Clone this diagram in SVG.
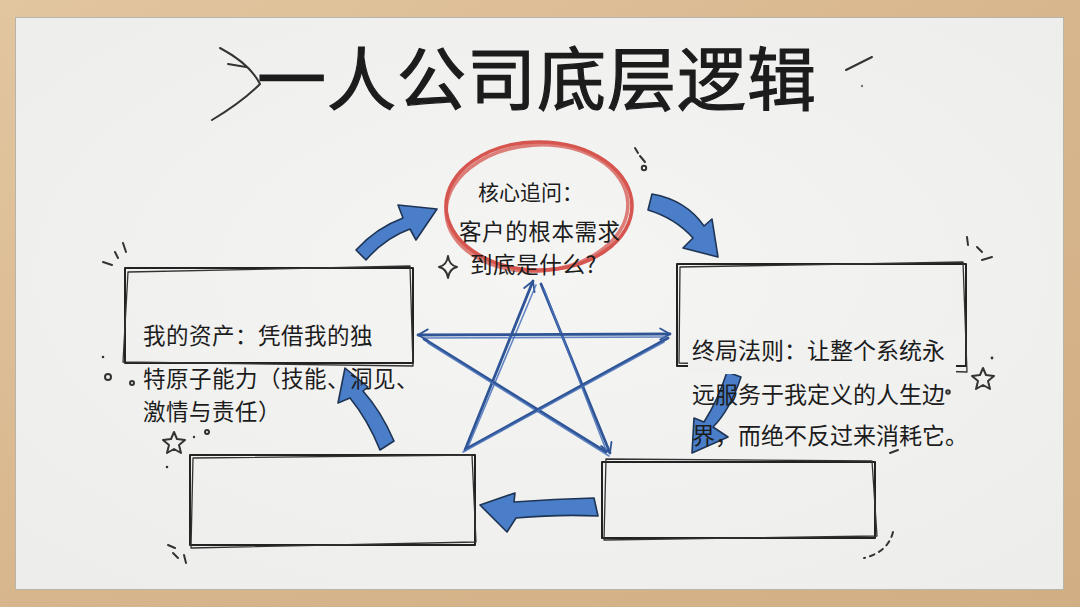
<svg xmlns="http://www.w3.org/2000/svg" width="1080" height="607" viewBox="0 0 1080 607">
<defs>
<linearGradient id="wood" x1="0" y1="0" x2="1" y2="1">
<stop offset="0" stop-color="#e2c6a0"/>
<stop offset="0.5" stop-color="#d8b68d"/>
<stop offset="1" stop-color="#d2ae84"/>
</linearGradient>
<radialGradient id="board" cx="0.5" cy="0.45" r="0.7">
<stop offset="0" stop-color="#f5f5f4"/>
<stop offset="1" stop-color="#ededec"/>
</radialGradient>
<marker id="chev" viewBox="0 0 20 20" refX="17" refY="10" markerWidth="14" markerHeight="14" markerUnits="userSpaceOnUse" orient="auto-start-reverse">
<path d="M3 2 L17 10 L3 18" fill="none" stroke="#2f5597" stroke-width="2.6" stroke-linejoin="round" stroke-linecap="round"/>
</marker>
<style>
.t{font-family:"Noto Sans CJK SC","Noto Sans",sans-serif;fill:#1c1c1c}
.box{fill:none;stroke:#222;stroke-width:2;stroke-linejoin:round}
.box2{fill:none;stroke:#333;stroke-width:1.3;stroke-linejoin:round}
.arw{fill:#4a7ec8;stroke:#1e3454;stroke-width:1.6;stroke-linejoin:round}
.star{fill:none;stroke:#2f5597;stroke-width:2.8;stroke-linecap:round}
.star2{fill:none;stroke:#4a72b8;stroke-width:1.6;stroke-linecap:round;opacity:0.85}
.deco{fill:none;stroke:#333;stroke-width:2;stroke-linecap:round;stroke-linejoin:round}
.red{fill:none;stroke:#d6554f;stroke-width:3.6}
</style>
</defs>

<!-- frame and board -->
<rect x="0" y="0" width="1080" height="607" fill="url(#wood)"/>
<rect x="15" y="17" width="1049" height="573" fill="url(#board)"/>
<rect x="15.5" y="17.5" width="1048" height="572" fill="none" stroke="#b9b3a8" stroke-width="1"/>

<!-- title -->
<g id="title">
<text class="t" x="537" y="105" font-size="69" font-weight="400" text-anchor="middle" letter-spacing="1" stroke="#1c1c1c" stroke-width="1.2">一人公司底层逻辑</text>
<path class="deco" d="M220 48 Q250 64 260 84 Q242 102 212 120" stroke="#555" stroke-width="2.2"/>
<path class="deco" d="M228 64 L246 67" stroke="#666" stroke-width="1.8"/>
<path class="deco" d="M846 70 L872 57" stroke="#888" stroke-width="1.5"/>
<circle cx="862" cy="86" r="1.2" fill="#777"/>
</g>

<!-- connectors -->
<g id="connectors">
<!-- pentagram -->
<line class="star" x1="465" y1="450" x2="533" y2="281" marker-end="url(#chev)"/>
<line class="star2" x1="468" y1="447" x2="536" y2="285"/>
<line class="star" x1="541" y1="284" x2="610" y2="453" marker-end="url(#chev)"/>
<line class="star2" x1="544" y1="289" x2="606" y2="450"/>
<line class="star" x1="418" y1="335" x2="670" y2="334" marker-start="url(#chev)" marker-end="url(#chev)"/>
<line class="star2" x1="425" y1="338" x2="665" y2="337"/>
<line class="star" x1="424" y1="339" x2="606" y2="452"/>
<line class="star2" x1="428" y1="343" x2="609" y2="456"/>
<line class="star" x1="668" y1="338" x2="466" y2="449"/>
<line class="star2" x1="664" y1="342" x2="463" y2="452"/>

<!-- blue curved arrows -->
<path class="arw" d="M356 250 Q376 228 403 218 L398 205 L437 209 L416 240 L410 229 Q385 238 366 260 Z"/>
<path class="arw" d="M652 194 Q686 200 704 226 L712 219 L718 257 L683 248 L693 238 Q675 218 648 210 Z"/>
<path class="arw" d="M380 450 L394 441 Q381 411 363 391 L368 387 L345 368 L338 403 L350 398 Q368 420 380 450 Z"/>
<path class="arw" d="M594 498 L598 516 Q560 514 516 518 L507 532 L480 505 L515 493 L514 502 Q555 499 594 498 Z"/>
<path class="arw" d="M727 372 L741 377 Q730 410 713 427 L728 437 L692 453 L694 418 L704 422 Q718 400 727 372 Z"/>
</g>

<!-- center node -->
<g id="node-core">
<ellipse class="red" cx="539" cy="206" rx="93" ry="64"/>
<ellipse class="red" cx="537" cy="208" rx="91" ry="63" transform="rotate(-4 537 208)" stroke-width="1.6" opacity="0.75"/>
<text class="t" x="478" y="200" font-size="21">核心追问：</text>
<text class="t" font-size="22.5" letter-spacing="0.6"><tspan x="459" y="240">客户的根本需求</tspan><tspan x="470" y="273">到底是什么?</tspan></text>
</g>

<!-- left top node -->
<g id="node-assets">
<rect class="box" x="125" y="268" width="288" height="95"/>
<path class="box2" d="M128 272 L410 266 L413 366 L123 362 Z"/>
<text class="t" font-size="22.5" letter-spacing="0.5"><tspan x="143" y="344">我的资产：凭借我的独</tspan><tspan x="143" y="387">特原子能力（技能、洞见、</tspan><tspan x="143" y="420">激情与责任）</tspan></text>
</g>

<!-- right top node -->
<g id="node-endgame">
<rect class="box" x="677" y="264" width="289" height="102"/>
<path class="box2" d="M680 267 L963 262 L967 372 L679 363 Z"/>
<rect x="688" y="338" width="268" height="36" fill="#f1f1f0"/>
<text class="t" font-size="23"><tspan x="692" y="359">终局法则：让整个系统永</tspan><tspan x="692" y="403">远服务于我定义的人生边</tspan><tspan x="692" y="444">界，而绝不反过来消耗它。</tspan></text>
</g>

<!-- bottom left node -->
<g id="node-bottom-left">
<rect class="box" x="190" y="455" width="285" height="90"/>
<path class="box2" d="M193 458 L472 455 L476 542 L191 548 Z"/>
</g>

<!-- bottom right node -->
<g id="node-bottom-right">
<rect class="box" x="602" y="462" width="273" height="76"/>
<path class="box2" d="M606 459 L872 461 L877 536 L604 540 Z"/>
</g>

<!-- decorations -->
<g id="decorations">
<path class="deco" d="M103 262 L112 265 M115 252 L118 258 M123 243 L126 252"/>
<circle cx="108" cy="377" r="3" class="deco" stroke-width="1.6"/>
<circle cx="132" cy="383" r="2" class="deco" stroke-width="1.4"/>
<circle cx="103" cy="357" r="1.3" fill="#333"/>
<path class="deco" stroke-width="1.5" d="M174 432 L177 439 L185 440 L179 445 L181 453 L174 449 L167 453 L169 445 L163 440 L171 439 Z"/>
<circle cx="194" cy="437" r="1.2" fill="#333"/>
<circle cx="207" cy="432" r="2" class="deco" stroke-width="1.3"/>
<circle cx="167" cy="467" r="1.3" fill="#333"/>
<path class="deco" d="M168 545 L175 548 M173 553 L178 558 M184 555 L186 563"/>
<path class="deco" stroke-width="1.5" d="M448 256 Q449 265 457 267 Q449 269 448 278 Q447 269 439 267 Q447 265 448 256 Z"/>
<path class="deco" stroke-width="1.6" d="M635 148 L638 153 M640 156 L645 162"/>
<circle cx="644" cy="168" r="2.2" class="deco" stroke-width="1.4"/>
<path class="deco" d="M967 237 L968 245 M977 247 L982 252 M982 260 L992 257"/>
<circle cx="992" cy="358" r="1.4" fill="#333"/>
<path class="deco" stroke-width="1.5" d="M983 368 L986 375 L994 376 L988 381 L990 389 L983 385 L976 389 L978 381 L972 376 L980 375 Z"/>
<circle cx="948" cy="392" r="1.8" class="deco" stroke-width="1.1"/>
<path class="deco" d="M890 453 L898 450"/>
<path class="deco" stroke-dasharray="5 5" d="M893 532 Q888 552 864 558"/>
</g>
</svg>
